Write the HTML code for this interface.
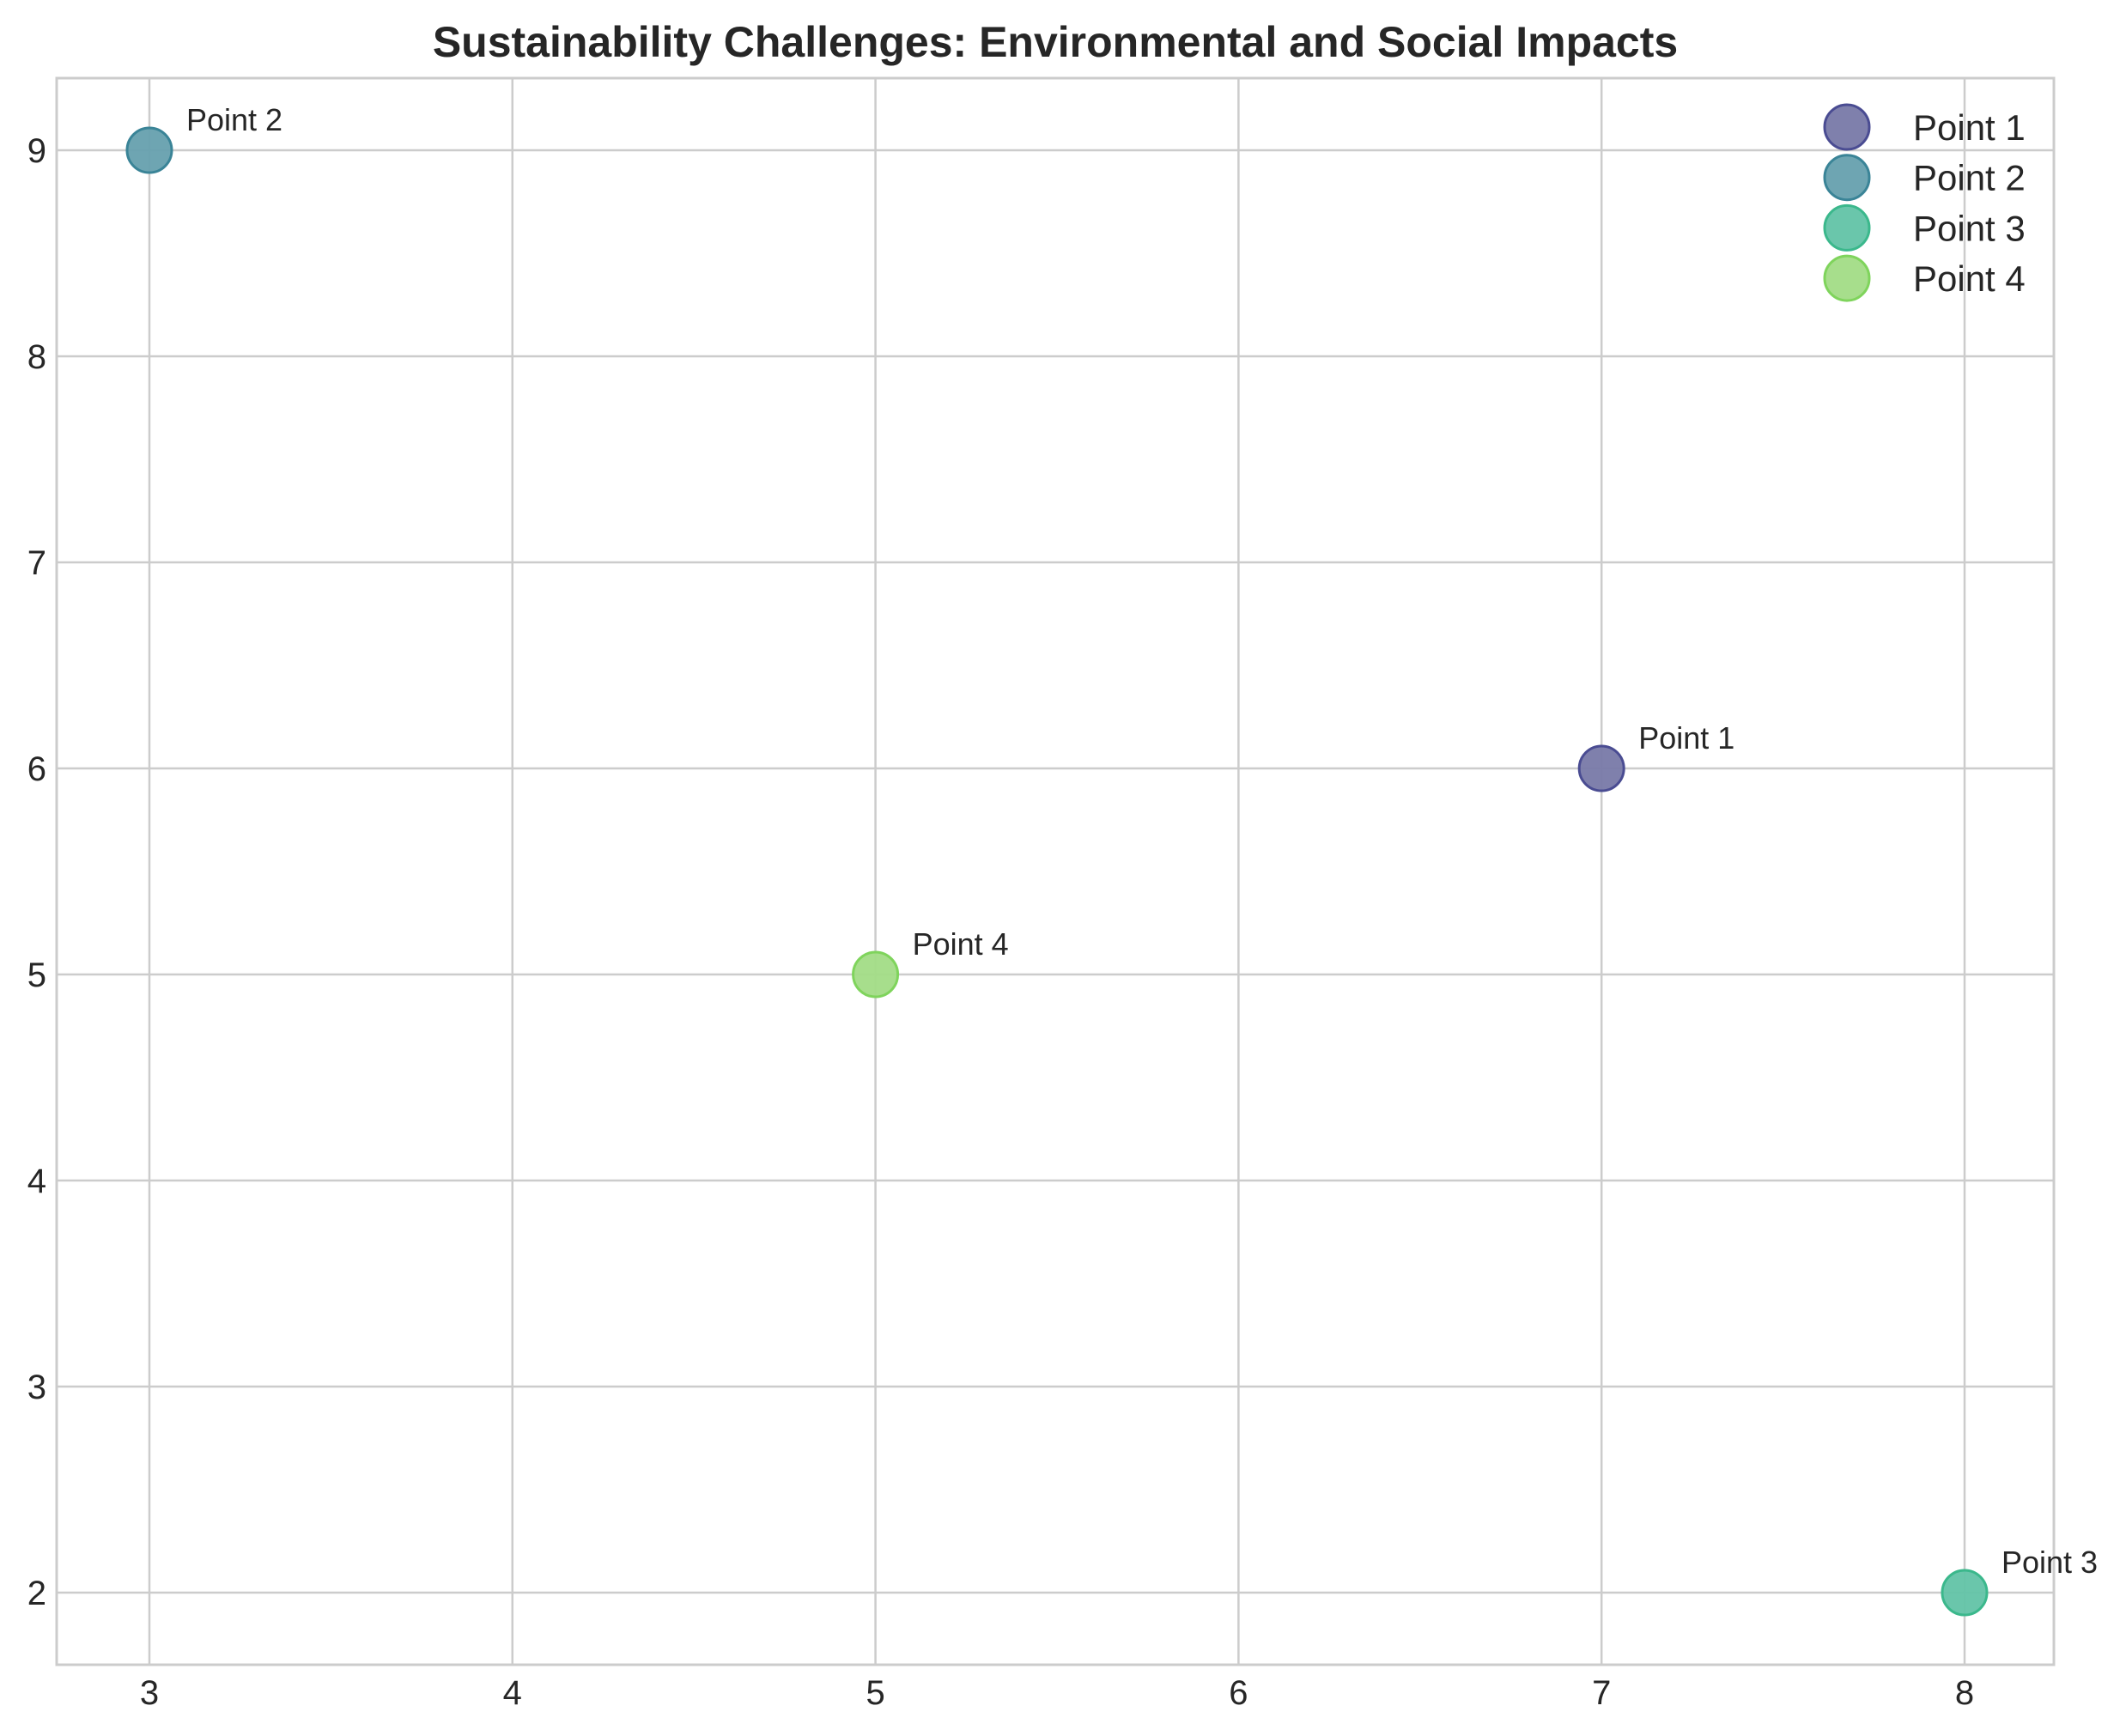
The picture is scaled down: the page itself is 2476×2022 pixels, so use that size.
<!DOCTYPE html>
<html><head><meta charset="utf-8"><style>
html,body{margin:0;padding:0;background:#fff;}
svg{display:block;font-family:"Liberation Sans",Arial,sans-serif;}
</style></head><body>
<svg id="chart" width="2476" height="2022" viewBox="0 0 2476 2022" xmlns="http://www.w3.org/2000/svg">
<rect width="2476" height="2022" fill="#fff"/>
<text x="1229" y="66" text-anchor="middle" font-size="50" font-weight="bold" fill="#262626">Sustainability Challenges: Environmental and Social Impacts</text>
<g id="grid"></g>
<g id="ticks"></g>
<rect x="66" y="91" width="2326" height="1848" fill="none" stroke="#cccccc" stroke-width="3"/>
<g id="points"></g>
<g id="legend"></g>
</svg>
<script>
const labels = ["Point 1","Point 2","Point 3","Point 4"];
const xValues = [7,3,8,5];
const yValues = [6,9,2,5];
const fills = ["#7879a8","#66a0ae","#62c3a6","#a2dc86"];
const edges = ["#4a4c92","#3a8497","#3bb88c","#7fd45c"];
const xTicks = [3,4,5,6,7,8];
const yTicks = [2,3,4,5,6,7,8,9];

const L=66,R=2392,T=91,B=1939;
const xMin=2.7446,xMax=8.246,yMin=1.65,yMax=9.35;
const sx=v=>L+(v-xMin)/(xMax-xMin)*(R-L);
const sy=v=>B-(v-yMin)/(yMax-yMin)*(B-T);
const NS="http://www.w3.org/2000/svg";
function mk(tag,attrs,parent){const e=document.createElementNS(NS,tag);for(const k in attrs)e.setAttribute(k,attrs[k]);parent.appendChild(e);return e;}
const grid=document.getElementById('grid'),ticks=document.getElementById('ticks'),pts=document.getElementById('points'),leg=document.getElementById('legend');
xTicks.forEach(t=>{
  const l=mk('line',{x1:sx(t),x2:sx(t),y1:T,y2:B,stroke:'#cccccc','stroke-width':2.5},grid);
  
  
  const tx=mk('text',{x:sx(t),y:1985,'text-anchor':'middle','font-size':40,fill:'#262626'},ticks);
  tx.textContent=t;
  
  
});
yTicks.forEach(t=>{
  const l=mk('line',{x1:L,x2:R,y1:sy(t),y2:sy(t),stroke:'#cccccc','stroke-width':2.5},grid);
  
  
  const tx=mk('text',{x:54,y:sy(t)+14,'text-anchor':'end','font-size':40,fill:'#262626'},ticks);
  tx.textContent=t;
  
  
});
labels.forEach((lab,i)=>{
  const c=mk('circle',{cx:sx(xValues[i]),cy:sy(yValues[i]),r:26,fill:fills[i],'fill-opacity':0.95,stroke:edges[i],'stroke-width':3},pts);
  
  
  const a=mk('text',{x:sx(xValues[i])+43,y:sy(yValues[i])-23,'font-size':36,fill:'#262626'},pts);
  a.textContent=lab;
  
  
  const ly=148+i*58.7;
  const lc=mk('circle',{cx:2151,cy:ly,r:26,fill:fills[i],'fill-opacity':0.95,stroke:edges[i],'stroke-width':3},leg);
  
  
  const lt=mk('text',{x:2228,y:ly+15,'font-size':42,fill:'#262626'},leg);
  lt.textContent=lab;
  
  
});
</script>
</body></html>
